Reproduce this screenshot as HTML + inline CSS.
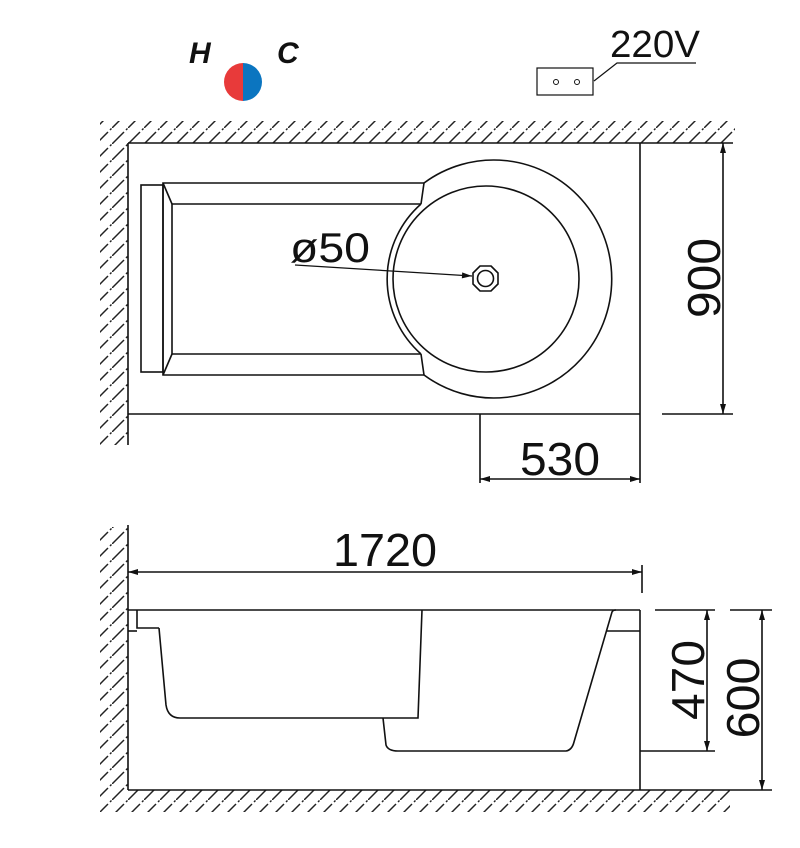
<!DOCTYPE html>
<html><head><meta charset="utf-8"><style>html,body{margin:0;padding:0;background:#fff}svg{display:block}</style></head>
<body>
<svg width="800" height="848" viewBox="0 0 800 848" xmlns="http://www.w3.org/2000/svg">
<defs>
<pattern id="h" width="16" height="16" patternUnits="userSpaceOnUse">
<line x1="0" y1="16" x2="12" y2="4" stroke="#222" stroke-width="1.5"/>
<line x1="14" y1="2" x2="15.5" y2="0.5" stroke="#222" stroke-width="1.5"/>
</pattern>
<marker id="a" viewBox="0 0 10 6" refX="10" refY="3" markerWidth="12" markerHeight="6" orient="auto" markerUnits="userSpaceOnUse"><path d="M0,0 L10,3 L0,6 Z" fill="#111"/></marker>
<marker id="as" viewBox="0 0 10 6" refX="10" refY="3" markerWidth="14" markerHeight="6" orient="auto-start-reverse" markerUnits="userSpaceOnUse"><path d="M0,0 L10,3 L0,6 Z" fill="#111"/></marker>
</defs>
<rect width="800" height="848" fill="#fff"/>
<rect x="100" y="121" width="635" height="22" fill="url(#h)"/>
<rect x="100" y="143" width="28" height="302" fill="url(#h)"/>
<rect x="100" y="527" width="28" height="263" fill="url(#h)"/>
<rect x="100" y="790" width="630" height="22" fill="url(#h)"/>

<g fill="none" stroke="#111" stroke-width="1.6">
<line x1="128" y1="143" x2="733" y2="143"/>
<line x1="128" y1="143" x2="128" y2="445"/>
<line x1="128" y1="414" x2="640" y2="414"/>
<line x1="640" y1="143" x2="640" y2="414"/>
<line x1="662" y1="414" x2="733" y2="414"/>
<line x1="723" y1="143" x2="723" y2="414" marker-start="url(#as)" marker-end="url(#as)"/>
<line x1="480" y1="414" x2="480" y2="483"/>
<line x1="640" y1="414" x2="640" y2="483"/>
<line x1="480" y1="479" x2="640" y2="479" marker-start="url(#as)" marker-end="url(#as)"/>
<rect x="141" y="185" width="22" height="187"/>
<polyline points="424,183 163,183 163,375 424,375"/>
<polyline points="421,204 172,204 172,354 421,354"/>
<line x1="163" y1="183" x2="172" y2="204"/>
<line x1="163" y1="375" x2="172" y2="354"/>
<line x1="424" y1="183" x2="421" y2="204"/>
<line x1="424" y1="375" x2="421" y2="354"/>
<path d="M424,183 A118,119 0 1 1 424,375"/>
<path d="M421,204 A100,100 0 0 0 421,354"/>
<circle cx="486" cy="279" r="93"/>
<polygon points="491,266 498,273 498,284 491,291 480,291 473,284 473,273 480,266"/>
<circle cx="485.5" cy="278.5" r="8"/>
<line x1="295" y1="265" x2="472" y2="276" marker-end="url(#a)" stroke-width="1.3"/>
<line x1="128" y1="525" x2="128" y2="790"/>
<line x1="128" y1="610" x2="640" y2="610"/>
<line x1="128" y1="790" x2="730" y2="790"/>
<line x1="640" y1="610" x2="640" y2="790"/>
<line x1="642" y1="565" x2="642" y2="593"/>
<line x1="128" y1="572" x2="642" y2="572" marker-start="url(#as)" marker-end="url(#as)"/>
<polyline points="137,610 137,628 159,628"/>
<line x1="128" y1="631" x2="137" y2="631"/>
<path d="M159,628 L166,705 Q168,718 180,718 L418,718 L422,610"/>
<path d="M383,718 L386,745 Q388,751 398,751 L566,751 Q572,750 574,742 L612,612 Q613,610 616,610"/>
<line x1="607" y1="631" x2="640" y2="631"/>
<line x1="655" y1="610" x2="715" y2="610"/>
<line x1="730" y1="610" x2="772" y2="610"/>
<line x1="640" y1="751" x2="715" y2="751"/>
<line x1="730" y1="790" x2="772" y2="790"/>
<line x1="707" y1="610" x2="707" y2="751" marker-start="url(#as)" marker-end="url(#as)"/>
<line x1="762" y1="610" x2="762" y2="790" marker-start="url(#as)" marker-end="url(#as)"/>
<rect x="537" y="68" width="56" height="27" stroke-width="1.2"/>
<circle cx="556" cy="82" r="2.5" stroke-width="1"/>
<circle cx="577" cy="82" r="2.5" stroke-width="1"/>
<polyline points="594,81 617,63 696,63" stroke-width="1.2"/>
</g>
<path d="M243,63 A19,19 0 0 0 243,101 Z" fill="#e83a3a"/>
<path d="M243,63 A19,19 0 0 1 243,101 Z" fill="#0b75c0"/>
<g font-family="Liberation Sans, sans-serif" fill="#111">
<text x="189" y="63" font-size="30" font-weight="bold" font-style="italic">H</text>
<text x="277" y="63" font-size="30" font-weight="bold" font-style="italic">C</text>
<text x="610" y="57" font-size="38" textLength="90" lengthAdjust="spacingAndGlyphs">220V</text>
<text x="290" y="262" font-size="42" textLength="80" lengthAdjust="spacingAndGlyphs">ø50</text>
<text x="520" y="475" font-size="46" textLength="80" lengthAdjust="spacingAndGlyphs">530</text>
<text x="333" y="566" font-size="46" textLength="104" lengthAdjust="spacingAndGlyphs">1720</text>
<text transform="translate(720,278) rotate(-90)" text-anchor="middle" font-size="46" textLength="80" lengthAdjust="spacingAndGlyphs">900</text>
<text transform="translate(704,680) rotate(-90)" text-anchor="middle" font-size="46" textLength="80" lengthAdjust="spacingAndGlyphs">470</text>
<text transform="translate(759,698) rotate(-90)" text-anchor="middle" font-size="46" textLength="81" lengthAdjust="spacingAndGlyphs">600</text>
</g>
</svg>
</body></html>
